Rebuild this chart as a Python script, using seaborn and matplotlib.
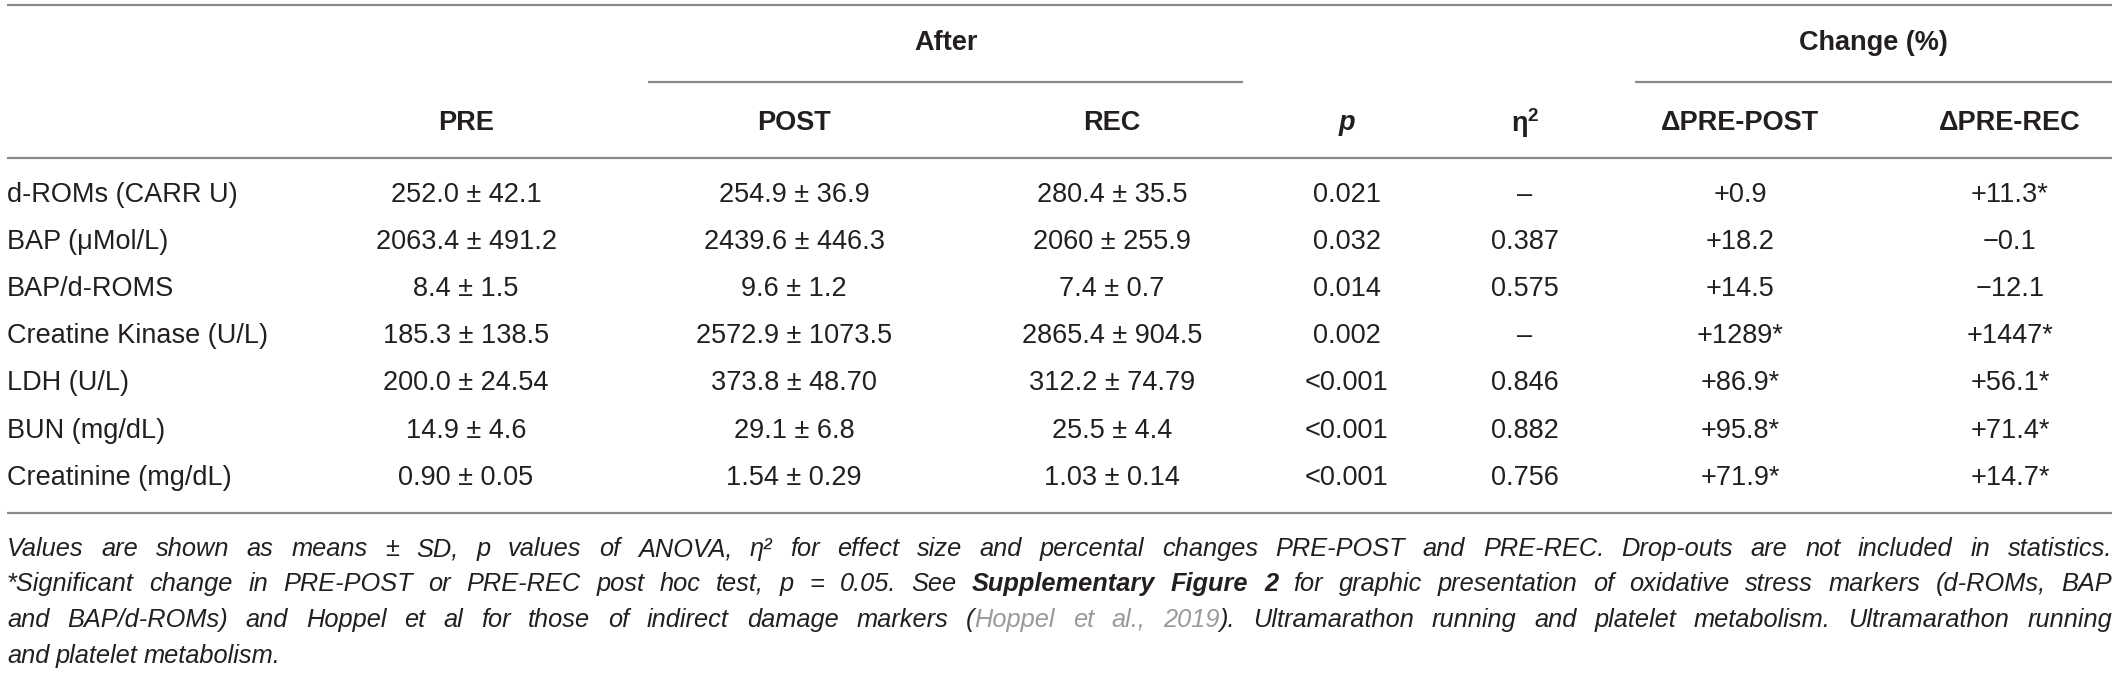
import matplotlib
matplotlib.use("Agg")
import matplotlib.pyplot as plt
import seaborn as sns

sns.set_theme(style="white")
plt.rcParams["font.family"] = ["Liberation Sans", "DejaVu Sans"]
plt.rcParams["mathtext.fontset"] = "custom"
plt.rcParams["mathtext.rm"] = "Liberation Sans"
plt.rcParams["mathtext.bf"] = "Liberation Sans:bold"

# table content
markers = ["d-ROMs (CARR U)", "BAP (\u03bcMol/L)", "BAP/d-ROMS", "Creatine Kinase (U/L)",
           "LDH (U/L)", "BUN (mg/dL)", "Creatinine (mg/dL)"]
pre = ["252.0 \u00b1 42.1", "2063.4 \u00b1 491.2", "8.4 \u00b1 1.5", "185.3 \u00b1 138.5",
       "200.0 \u00b1 24.54", "14.9 \u00b1 4.6", "0.90 \u00b1 0.05"]
post = ["254.9 \u00b1 36.9", "2439.6 \u00b1 446.3", "9.6 \u00b1 1.2", "2572.9 \u00b1 1073.5",
        "373.8 \u00b1 48.70", "29.1 \u00b1 6.8", "1.54 \u00b1 0.29"]
rec = ["280.4 \u00b1 35.5", "2060 \u00b1 255.9", "7.4 \u00b1 0.7", "2865.4 \u00b1 904.5",
       "312.2 \u00b1 74.79", "25.5 \u00b1 4.4", "1.03 \u00b1 0.14"]
p_vals = ["0.021", "0.032", "0.014", "0.002", "<0.001", "<0.001", "<0.001"]
eta_sq = ["\u2013", "0.387", "0.575", "\u2013", "0.846", "0.882", "0.756"]
chg_post = ["+0.9", "+18.2", "+14.5", "+1289*", "+86.9*", "+95.8*", "+71.9*"]
chg_rec = ["+11.3*", "\u22120.1", "\u221212.1", "+1447*", "+56.1*", "+71.4*", "+14.7*"]

columns = [pre, post, rec, p_vals, eta_sq, chg_post, chg_rec]
col_x = [466, 794, 1112, 1347, 1525, 1740, 2010]
headers = ["PRE", "POST", "REC", "p", r"$\mathbf{\eta^{2}}$", "\u0394PRE-POST", "\u0394PRE-REC"]

caption = [
    [("Values are shown as means \u00b1 SD, p values of ANOVA, \u03b7\u00b2 for effect size and percental "
      "changes PRE-POST and PRE-REC. Drop-outs are not included in statistics.", "i")],
    [("*Significant change in PRE-POST or PRE-REC post hoc test, p = 0.05. See", "i"),
     ("Supplementary Figure 2", "b"),
     ("for graphic presentation of oxidative stress markers (d-ROMs, BAP", "i")],
    [("and BAP/d-ROMs) and Hoppel et al for those of indirect damage markers (", "i"),
     ("Hoppel et al., 2019", "g"),
     ("). Ultramarathon running and platelet metabolism. Ultramarathon running", "i")],
    [("and platelet metabolism.", "i")],
]

W, H = 2118, 680
ink = "#231f20"
rule = "#8a8a8a"

fig = plt.figure(figsize=(W / 100, H / 100), dpi=100)
ax = fig.add_axes([0, 0, 1, 1])
ax.set_xlim(0, W)
ax.set_ylim(H, 0)
ax.axis("off")

# rules
ax.hlines([5, 158, 513], 7, 2112, color=rule, lw=1.6)
ax.hlines(82, 648, 1243, color=rule, lw=1.6)
ax.hlines(82, 1635, 2112, color=rule, lw=1.6)

fs = 19.5
ax.text(946, 43, "After", ha="center", va="center", fontsize=fs, fontweight="bold", color=ink)
ax.text(1873, 43, "Change (%)", ha="center", va="center", fontsize=fs, fontweight="bold", color=ink)
for x, h in zip(col_x, headers):
    style = "italic" if h == "p" else "normal"
    ax.text(x, 123, h, ha="center", va="center", fontsize=fs, fontweight="bold",
            style=style, color=ink)

row_y = [195, 242, 289, 336, 383, 431, 478]
for y, lab in zip(row_y, markers):
    ax.text(7, y, lab, ha="left", va="center", fontsize=fs, color=ink)
for x, col in zip(col_x, columns):
    for y, val in zip(row_y, col):
        ax.text(x, y, val, ha="center", va="center", fontsize=fs, color=ink)

# caption, justified word by word
fig.canvas.draw()
renderer = fig.canvas.get_renderer()
cfs = 18.3
cap_y = [549, 584, 620, 656]
left, right = 7, 2112


def style_kw(kind):
    kw = dict(fontsize=cfs, style="italic", color=ink)
    if kind == "b":
        kw["fontweight"] = "bold"
    if kind == "g":
        kw["color"] = "#9a9a9a"
    return kw


for li, (y, parts) in enumerate(zip(cap_y, caption)):
    tokens = []
    for text, kind in parts:
        words = text.split(" ")
        for wi, w in enumerate(words):
            # glue "(" + gray ref + ")" without spaces
            tokens.append([w, kind, wi == 0])
    # join tokens that are not separated by space (ref in parentheses)
    items = []
    for i, (w, kind, first) in enumerate(tokens):
        if i > 0 and first and (tokens[i - 1][0].endswith("(") or w.startswith(")")):
            items[-1].append((w, kind))
        else:
            items.append([(w, kind)])
    widths = []
    for group in items:
        gw = []
        for w, kind in group:
            t = ax.text(0, 0, w, **style_kw(kind))
            gw.append(t.get_window_extent(renderer).width)
            t.remove()
        widths.append(gw)
    total = sum(sum(g) for g in widths)
    last = li == len(caption) - 1
    gap = 6.0 if last else (right - left - total) / (len(items) - 1)
    x = left
    for group, gw in zip(items, widths):
        for (w, kind), ww in zip(group, gw):
            ax.text(x, y, w, ha="left", va="center", **style_kw(kind))
            x += ww
        x += gap

fig.savefig("out.png", dpi=100, facecolor="white")
